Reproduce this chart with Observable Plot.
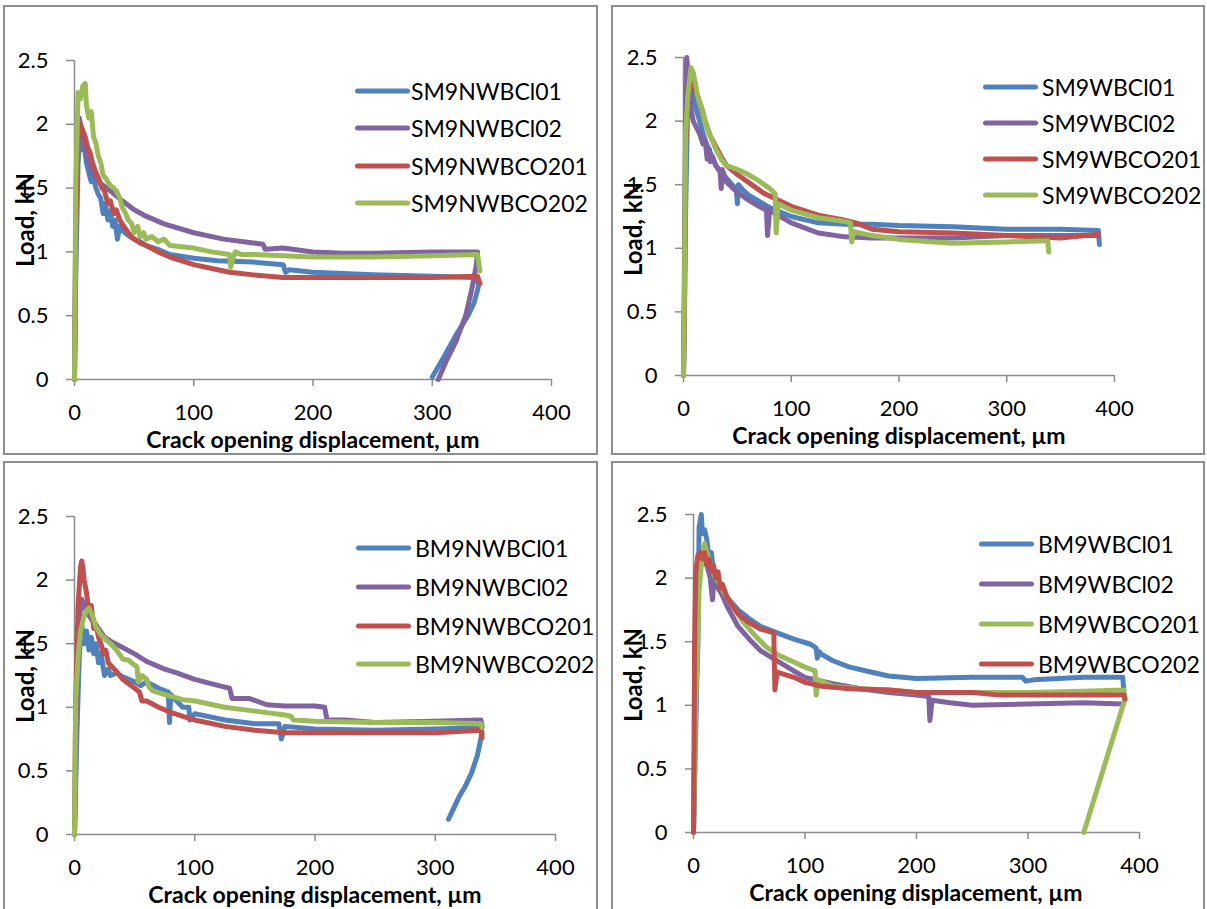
<!DOCTYPE html>
<html><head><meta charset="utf-8">
<script src="https://cdn.jsdelivr.net/npm/d3@7"></script>
<script src="https://cdn.jsdelivr.net/npm/@observablehq/plot@0.6"></script>
<style>
html,body{margin:0;padding:0;background:#fff;}
body{width:1207px;height:909px;overflow:hidden;position:relative;font-family:Lato,"Open Sans",sans-serif;color:#000;}
.box{position:absolute;border:2px solid #8f8f8f;box-sizing:border-box;}
.plot{position:absolute;}
.plot svg{overflow:visible;}
.ytitle{position:absolute;font-weight:bold;font-size:24px;line-height:1;white-space:nowrap;transform:translate(-50%,-50%) rotate(-90deg);}
.xtitle{position:absolute;font-weight:bold;font-size:23px;line-height:1;white-space:nowrap;transform:translate(-50%,0);}
.legrow{position:absolute;display:flex;align-items:center;transform:translateY(-50%);}
.legline{width:55px;height:5px;border-radius:3px;}
.legtext{font-size:23px;margin-left:4px;line-height:1;}
</style></head>
<body>
<script>
// ---------- axis ticks & labels ----------
const xTicks = [0, 100, 200, 300, 400];
const yTicks = [0, 0.5, 1, 1.5, 2, 2.5];
const xTitle = "Crack opening displacement, µm";
const yTitle = "Load, kN";
const colors = ["#4F81BD", "#8064A2", "#C0504D", "#9BBB59"];

// ---------- Panel 1: SM9NW ----------
const p1Names = ["SM9NWBCl01", "SM9NWBCl02", "SM9NWBCO201", "SM9NWBCO202"];
const sm9nwbcl01_x = [0,1,3,5,6,8,10,12,14,16,18,20,22,24,26,28,30,32,34,36,38,40,45,50,55,60,70,80,100,120,150,175,177,180,200,250,300,335,339,338,335,330,320,310,300];
const sm9nwbcl01_y = [0,0.8,1.7,1.95,1.8,1.85,1.7,1.62,1.55,1.58,1.5,1.45,1.42,1.3,1.38,1.25,1.32,1.2,1.25,1.1,1.2,1.17,1.13,1.1,1.08,1.05,1.02,0.98,0.95,0.93,0.92,0.9,0.84,0.86,0.84,0.82,0.81,0.8,0.75,0.7,0.6,0.5,0.35,0.18,0.02];
const sm9nwbcl02_x = [0,1,2,4,6,10,15,20,30,40,50,60,75,100,125,150,158,160,175,200,225,250,300,325,338,337,333,328,320,312,305];
const sm9nwbcl02_y = [0,1.0,1.9,2.05,1.95,1.75,1.62,1.55,1.48,1.4,1.33,1.28,1.22,1.15,1.1,1.07,1.06,1.02,1.03,1.0,0.99,0.99,1.0,1.0,1.0,0.9,0.7,0.5,0.3,0.15,0.0];
const sm9nwbco201_x = [0,1,3,5,7,9,11,13,15,18,20,23,25,28,30,33,35,38,40,45,50,55,60,70,80,100,120,130,150,175,200,250,300,338,340];
const sm9nwbco201_y = [0,1.2,1.9,2.0,1.95,1.9,1.82,1.78,1.7,1.62,1.58,1.5,1.48,1.38,1.4,1.3,1.33,1.25,1.22,1.15,1.1,1.07,1.05,1.0,0.96,0.9,0.86,0.84,0.82,0.8,0.8,0.8,0.8,0.81,0.75];
const sm9nwbco202_x = [0,1,3,5,7,9,10,12,14,16,18,20,22,24,26,28,30,33,35,38,40,43,45,48,50,53,55,58,60,65,70,75,80,90,100,115,130,131,133,135,140,150,175,200,250,300,338,340];
const sm9nwbco202_y = [0,1.5,2.25,2.2,2.3,2.32,2.15,2.05,2.1,1.9,1.85,1.75,1.7,1.6,1.58,1.55,1.52,1.5,1.48,1.42,1.35,1.3,1.25,1.22,1.15,1.2,1.12,1.15,1.1,1.12,1.08,1.1,1.05,1.04,1.03,1.0,0.98,0.88,0.96,1.0,0.98,0.98,0.97,0.96,0.96,0.97,0.98,0.85];

// ---------- Panel 2: SM9W ----------
const p2Names = ["SM9WBCl01", "SM9WBCl02", "SM9WBCO201", "SM9WBCO202"];
const sm9wbcl01_x = [0,2,4,6,8,10,15,20,25,30,35,40,45,49,50,51,55,60,70,80,100,125,150,175,200,250,300,350,385,386];
const sm9wbcl01_y = [0,1.3,2.2,2.3,2.25,2.15,2.0,1.85,1.75,1.65,1.6,1.55,1.5,1.47,1.35,1.5,1.46,1.42,1.37,1.32,1.25,1.2,1.19,1.19,1.18,1.17,1.15,1.15,1.14,1.03];
const sm9wbcl02_x = [0,1,2,3,4,5,7,9,12,15,18,20,22,24,25,27,30,34,35,36,40,50,60,70,77,78,80,90,100,125,150,175,200,250,300,350,385];
const sm9wbcl02_y = [0,1.0,2.2,2.5,2.4,2.3,2.1,2.0,1.95,1.9,1.82,1.85,1.7,1.78,1.68,1.72,1.65,1.6,1.47,1.62,1.52,1.44,1.38,1.33,1.3,1.1,1.3,1.25,1.2,1.12,1.09,1.08,1.08,1.08,1.1,1.1,1.1];
const sm9wbco201_x = [0,1,2,4,6,8,10,13,15,20,25,30,35,40,50,60,75,100,125,150,160,175,200,250,300,350,385];
const sm9wbco201_y = [0,0.5,1.8,2.2,2.35,2.3,2.25,2.2,2.15,2.0,1.88,1.8,1.72,1.65,1.58,1.52,1.43,1.33,1.26,1.22,1.2,1.15,1.13,1.12,1.1,1.08,1.11];
const sm9wbco202_x = [0,1,2,4,6,7,9,11,13,15,18,20,25,30,35,40,50,60,70,80,85,86,88,100,125,150,155,156,158,175,200,250,300,338,339];
const sm9wbco202_y = [0,0.8,1.9,2.2,2.35,2.42,2.38,2.3,2.2,2.15,2.08,2.0,1.88,1.78,1.7,1.65,1.62,1.58,1.53,1.47,1.43,1.12,1.35,1.3,1.24,1.21,1.2,1.05,1.13,1.1,1.07,1.04,1.05,1.06,0.97];

// ---------- Panel 3: BM9NW ----------
const p3Names = ["BM9NWBCl01", "BM9NWBCl02", "BM9NWBCO201", "BM9NWBCO202"];
const bm9nwbcl01_x = [0,2,4,6,8,10,12,14,16,18,20,22,25,28,30,35,40,50,55,60,70,78,79,80,85,90,95,96,100,125,150,170,172,175,200,250,300,338,339,335,330,325,320,315,311];
const bm9nwbcl01_y = [0,0.8,1.4,1.65,1.5,1.6,1.45,1.55,1.42,1.5,1.35,1.42,1.25,1.3,1.25,1.27,1.24,1.2,1.17,1.2,1.15,1.12,0.88,1.1,1.05,1.0,1.0,0.9,0.95,0.9,0.87,0.87,0.75,0.85,0.83,0.82,0.83,0.84,0.8,0.62,0.48,0.38,0.3,0.2,0.12];
const bm9nwbcl02_x = [0,2,4,6,8,10,15,20,25,30,40,50,60,75,85,100,120,129,131,145,160,175,200,208,210,225,250,300,338,339];
const bm9nwbcl02_y = [0,1.1,1.7,1.85,1.8,1.75,1.68,1.62,1.55,1.52,1.47,1.42,1.36,1.3,1.27,1.22,1.17,1.15,1.07,1.07,1.02,1.01,1.01,1.0,0.9,0.9,0.88,0.89,0.9,0.85];
const bm9nwbco201_x = [0,1,3,5,6,7,8,10,12,14,16,18,20,22,24,26,28,30,35,40,50,54,56,60,70,80,100,125,150,175,200,250,300,338,339];
const bm9nwbco201_y = [0,1.05,1.8,2.1,2.15,2.1,2.0,1.9,1.75,1.8,1.62,1.65,1.55,1.5,1.42,1.45,1.35,1.33,1.28,1.22,1.15,1.12,1.05,1.05,1.0,0.96,0.9,0.85,0.82,0.8,0.8,0.8,0.8,0.82,0.76];
const bm9nwbco202_x = [0,1,3,5,8,10,12,15,18,22,25,30,35,40,45,50,52,53,56,60,62,65,75,90,100,125,150,175,180,182,200,250,300,338,339];
const bm9nwbco202_y = [0,1.05,1.4,1.6,1.72,1.76,1.78,1.72,1.63,1.57,1.54,1.5,1.45,1.38,1.37,1.33,1.32,1.2,1.25,1.22,1.16,1.13,1.1,1.06,1.05,1.0,0.97,0.94,0.93,0.9,0.89,0.88,0.88,0.87,0.84];

// ---------- Panel 4: BM9W ----------
const p4Names = ["BM9WBCl01", "BM9WBCl02", "BM9WBCO201", "BM9WBCO202"];
const bm9wbcl01_x = [0,3,4,5,6,7,8,10,12,14,16,18,20,25,30,40,50,60,75,90,105,110,111,113,115,125,140,160,175,200,250,295,298,305,350,385,386];
const bm9wbcl01_y = [0,1.2,1.5,2.4,2.45,2.5,2.35,2.38,2.3,2.15,2.2,2.05,1.95,1.92,1.85,1.75,1.68,1.62,1.57,1.52,1.48,1.45,1.37,1.42,1.4,1.35,1.3,1.26,1.23,1.21,1.22,1.22,1.19,1.2,1.22,1.22,1.1];
const bm9wbcl02_x = [0,2,4,6,8,12,15,17,18,20,25,30,35,40,50,60,75,90,100,125,150,175,200,211,212,214,230,250,300,350,385];
const bm9wbcl02_y = [0,1.5,2.0,2.1,2.15,2.1,2.0,1.83,1.95,1.95,1.88,1.78,1.7,1.62,1.52,1.43,1.35,1.27,1.22,1.17,1.13,1.1,1.08,1.07,0.88,1.04,1.02,1.0,1.01,1.02,1.01];
const bm9wbco201_x = [0,2,5,8,10,12,14,17,20,28,35,45,55,65,75,90,100,109,110,112,125,150,175,200,250,300,350,386,387,350];
const bm9wbco201_y = [0,1.0,1.9,2.2,2.27,2.2,2.15,2.05,2.0,1.88,1.78,1.65,1.55,1.46,1.4,1.34,1.3,1.27,1.08,1.2,1.15,1.13,1.12,1.1,1.1,1.1,1.11,1.12,1.05,0];
const bm9wbco202_x = [0,1,2,4,6,8,10,12,14,16,18,20,22,24,26,30,35,40,45,50,60,72,73,75,90,100,115,140,175,200,250,275,300,350,386,387];
const bm9wbco202_y = [0,1.5,2.05,2.18,2.2,2.15,2.2,2.1,2.15,2.05,2.1,2.0,2.05,1.92,1.95,1.85,1.78,1.72,1.68,1.65,1.6,1.57,1.12,1.26,1.22,1.18,1.15,1.13,1.12,1.1,1.1,1.08,1.08,1.08,1.08,1.05];

// ---------- layout (page pixel geometry, not data) ----------
const layout = [
  {box:[3,5,595,450], x0:74, x400:551, y0:379, y25:60, yT:[25,220], xT:[313,428],
   leg:{lx:355, tx:411, rows:[91,128,166,203]}, names:p1Names,
   series:[[sm9nwbcl01_x,sm9nwbcl01_y],[sm9nwbcl02_x,sm9nwbcl02_y],[sm9nwbco201_x,sm9nwbco201_y],[sm9nwbco202_x,sm9nwbco202_y]],
   colorIdx:[0,1,2,3]},
  {box:[611,5,594,450], x0:683, x400:1114, y0:375, y25:57, yT:[633,229], xT:[899,424],
   leg:{lx:983, tx:1042, rows:[87,123,159,195]}, names:p2Names,
   series:[[sm9wbcl01_x,sm9wbcl01_y],[sm9wbcl02_x,sm9wbcl02_y],[sm9wbco201_x,sm9wbco201_y],[sm9wbco202_x,sm9wbco202_y]],
   colorIdx:[0,1,2,3]},
  {box:[3,461,595,460], x0:74, x400:555, y0:834, y25:516, yT:[25,676], xT:[315,883],
   leg:{lx:356, tx:415, rows:[548,587,626,664]}, names:p3Names,
   series:[[bm9nwbcl01_x,bm9nwbcl01_y],[bm9nwbcl02_x,bm9nwbcl02_y],[bm9nwbco201_x,bm9nwbco201_y],[bm9nwbco202_x,bm9nwbco202_y]],
   colorIdx:[0,1,2,3]},
  {box:[611,461,594,460], x0:693, x400:1139, y0:832, y25:514, yT:[633,675], xT:[916,881],
   leg:{lx:979, tx:1038, rows:[544,584,624,664]}, names:p4Names,
   series:[[bm9wbcl01_x,bm9wbcl01_y],[bm9wbcl02_x,bm9wbcl02_y],[bm9wbco201_x,bm9wbco201_y],[bm9wbco202_x,bm9wbco202_y]],
   colorIdx:[0,1,3,2]}
];

function el(tag, cls, style, text){
  const e = document.createElement(tag);
  if (cls) e.className = cls;
  Object.assign(e.style, style || {});
  if (text != null) e.textContent = text;
  document.body.appendChild(e);
  return e;
}

for (const P of layout){
  const [bl, bt, bw, bh] = P.box;
  el("div", "box", {left:bl+"px", top:bt+"px", width:bw+"px", height:bh+"px"});

  const marks = P.series.map(([xs, ys], i) => {
    const data = xs.map((x, j) => ({x, y: ys[j]}));
    return Plot.line(data, {x:"x", y:"y", stroke: colors[P.colorIdx[i]], strokeWidth:5, strokeLinejoin:"round", strokeLinecap:"round"});
  });
  const plot = Plot.plot({
    width: bw,
    height: (P.y0 - bt) + 60,
    marginLeft: P.x0 - bl,
    marginRight: bl + bw - P.x400,
    marginTop: P.y25 - bt,
    marginBottom: 60,
    x: {domain:[0,400]},
    y: {domain:[0,2.5]},
    style: {fontFamily:"Lato, 'Open Sans', sans-serif", background:"transparent", color:"#000"},
    marks: [
      Plot.axisX({ticks:xTicks, tickFormat:d=>String(d), tickSize:7, tickPadding:18, stroke:"#8c8c8c", strokeWidth:1.5, fill:"#000", fontSize:22, label:null}),
      Plot.axisY({ticks:yTicks, tickFormat:d=>String(d), tickSize:8, tickPadding:18, stroke:"#8c8c8c", strokeWidth:1.5, fill:"#000", fontSize:22, label:null}),
      Plot.ruleY([0], {stroke:"#8c8c8c", strokeWidth:1.5}),
      Plot.ruleX([0], {stroke:"#8c8c8c", strokeWidth:1.5}),
      ...marks
    ]
  });
  const wrap = el("div", "plot", {left:bl+"px", top:bt+"px"});
  wrap.appendChild(plot);

  el("div", "ytitle", {left:P.yT[0]+"px", top:P.yT[1]+"px"}, yTitle);
  el("div", "xtitle", {left:P.xT[0]+"px", top:P.xT[1]+"px"}, xTitle);

  P.names.forEach((name, k) => {
    const row = el("div", "legrow", {left:P.leg.lx+"px", top:P.leg.rows[k]+"px"});
    const ln = document.createElement("div"); ln.className = "legline"; ln.style.background = colors[P.colorIdx[k]];
    const tx = document.createElement("div"); tx.className = "legtext"; tx.textContent = name;
    tx.style.marginLeft = (P.leg.tx - P.leg.lx - 55) + "px";
    row.appendChild(ln); row.appendChild(tx);
  });
}
</script>
</body></html>
